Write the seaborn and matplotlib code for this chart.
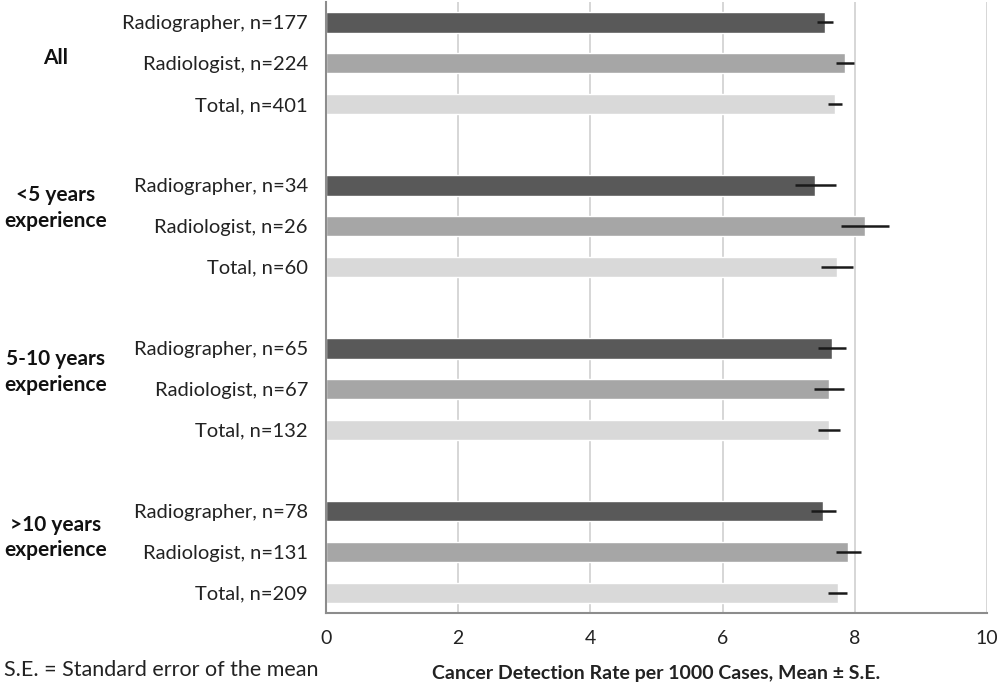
import numpy as np
import pandas as pd
import matplotlib
matplotlib.use("Agg")
import matplotlib.pyplot as plt
import matplotlib.transforms as mtransforms
from matplotlib.ticker import FixedLocator
import seaborn as sns

# values
groups = ["All", "<5 years\nexperience", "5-10 years\nexperience", ">10 years\nexperience"]
roles = ["Radiographer", "Radiologist", "Total"]
counts = [[177, 224, 401], [34, 26, 60], [65, 67, 132], [78, 131, 209]]
means = [[7.55, 7.85, 7.70], [7.40, 8.15, 7.73], [7.66, 7.61, 7.61], [7.52, 7.90, 7.74]]
ses = [[0.12, 0.14, 0.10], [0.31, 0.36, 0.24], [0.21, 0.22, 0.17], [0.19, 0.19, 0.14]]
role_colors = ["#595959", "#a6a6a6", "#d9d9d9"]

rows = []
order = []
for gi, g in enumerate(groups):
    for ri, r in enumerate(roles):
        lab = f"{r}, n={counts[gi][ri]}"
        rows.append({"label": lab, "group": g, "role": r,
                     "mean": means[gi][ri], "se": ses[gi][ri]})
        order.append(lab)
    if gi < len(groups) - 1:
        order.append(" " * (gi + 1))  # empty slot between groups
df = pd.DataFrame(rows)

sns.set_style("white")
plt.rcParams["font.family"] = ["Lato", "DejaVu Sans"]

fig = plt.figure(figsize=(10, 6.82), dpi=100)
ax = fig.add_axes([0.326, 0.101, 0.661, 0.896])

sns.barplot(data=df, y="label", x="mean", hue="role", order=order,
            hue_order=roles, palette=role_colors, dodge=False, width=0.5,
            errorbar=None, legend=False, orient="h", ax=ax)

ypos = [order.index(l) for l in df["label"]]
ax.errorbar(df["mean"], ypos, xerr=df["se"], fmt="none", ecolor="#1a1a1a",
            elinewidth=1.8, capsize=0, zorder=5)

ax.set_xlim(0, 10)
ax.set_ylim(len(order) - 0.5, -0.5)
ax.set_xticks(np.arange(0, 11, 2))
ax.xaxis.grid(True, color="#d0d0d0", linewidth=1.2)
ax.set_axisbelow(True)
for s in ["top", "right"]:
    ax.spines[s].set_visible(False)
for s in ["left", "bottom"]:
    ax.spines[s].set_color("#8c8c8c")
    ax.spines[s].set_linewidth(1.5)

ax.tick_params(axis="y", which="major", length=0, pad=13, labelsize=14.5, labelcolor="#222222")
ax.yaxis.set_minor_locator(FixedLocator(np.arange(-0.5, len(order), 1)))
ax.tick_params(axis="y", which="minor", length=6, width=1.2, color="#8c8c8c", direction="out")
ax.tick_params(axis="x", length=8, width=1.2, color="#8c8c8c", direction="inout",
               labelsize=14, pad=8, labelcolor="#222222")
ax.set_ylabel("")
ax.set_xlabel("Cancer Detection Rate per 1000 Cases, Mean ± S.E.", fontsize=14,
              fontweight="bold", labelpad=13, color="#222222")

# group labels on the left
trans = mtransforms.blended_transform_factory(fig.transFigure, ax.transData)
label_shift = [-0.12, -0.45, -0.42, -0.36]
for gi, g in enumerate(groups):
    yc = gi * 4 + 1 + label_shift[gi]
    ax.text(0.056, yc, g, transform=trans, ha="center", va="center",
            fontsize=15, fontweight="bold", linespacing=1.35, color="#111111")

fig.text(0.004, 0.018, "S.E. = Standard error of the mean", fontsize=15.5,
         color="#222222", ha="left", va="center")

fig.savefig("out.png", dpi=100)
